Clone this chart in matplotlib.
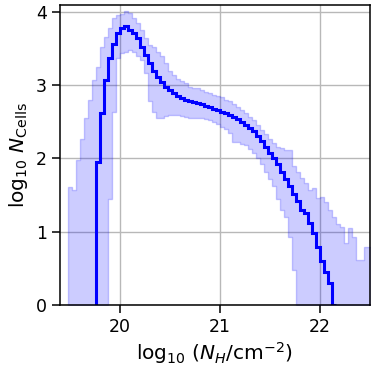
import numpy as np
import matplotlib.pyplot as plt

# histogram bins in log10(N_H), width 0.04
bin_width = 0.04
band_start = 19.48
median_start = 19.76

# upper envelope of the band, one value per bin from 19.48
band_hi = [1.61, 1.57, 1.98, 2.27, 2.55, 2.80, 3.07, 3.25, 3.52, 3.66,
           3.79, 3.92, 3.96, 3.98, 4.02, 3.99, 3.92, 3.85, 3.75, 3.65,
           3.55, 3.52, 3.46, 3.40, 3.30, 3.20, 3.14, 3.09, 3.06, 3.03,
           2.98, 2.96, 2.96, 2.94, 2.91, 2.89, 2.87, 2.86, 2.84, 2.80,
           2.78, 2.74, 2.70, 2.66, 2.62, 2.57, 2.52, 2.46, 2.39, 2.33,
           2.27, 2.21, 2.16, 2.14, 2.12, 2.11, 1.90, 1.81, 1.73, 1.66,
           1.57, 1.60, 1.46, 1.47, 1.40, 1.30, 1.20, 1.10, 1.06, 0.85,
           1.05, 0.93, 0.61, 0.61, 0.79, 0.79]

# lower envelope (0 where the lower count is empty)
band_lo = [0, 0, 0, 0, 0, 0, 0, 0, 0, 0,
           1.45, 2.63, 3.37, 3.44, 3.46, 3.48, 3.45, 3.40, 3.34, 3.17,
           2.78, 2.64, 2.56, 2.56, 2.58, 2.59, 2.59, 2.59, 2.58, 2.57,
           2.56, 2.56, 2.56, 2.56, 2.54, 2.53, 2.50, 2.47, 2.43, 2.40,
           2.35, 2.22, 2.22, 2.20, 2.18, 2.13, 2.08, 2.00, 1.92, 1.82,
           1.72, 1.62, 1.45, 1.30, 1.20, 0.93, 0.48, 0, 0, 0,
           0, 0, 0, 0, 0, 0, 0, 0, 0, 0,
           0, 0, 0, 0, 0, 0]

# median curve, one value per bin from 19.76
median = [1.95, 2.62, 3.07, 3.38, 3.57, 3.71, 3.79, 3.81, 3.76, 3.71,
          3.65, 3.52, 3.42, 3.30, 3.20, 3.12, 3.04, 2.98, 2.93, 2.89,
          2.86, 2.83, 2.80, 2.78, 2.77, 2.76, 2.74, 2.72, 2.70, 2.68,
          2.66, 2.64, 2.62, 2.60, 2.57, 2.54, 2.50, 2.46, 2.42, 2.37,
          2.31, 2.24, 2.16, 2.08, 2.00, 1.92, 1.82, 1.72, 1.62, 1.52,
          1.42, 1.30, 1.25, 1.12, 0.98, 0.79, 0.60, 0.45, 0.30, 0.0]

band_edges = band_start + bin_width * np.arange(len(band_hi) + 1)
med_edges = median_start + bin_width * np.arange(len(median) + 1)

fig = plt.figure(figsize=(3.74, 3.74), dpi=100)
ax = fig.add_axes([0.16, 0.185, 0.829, 0.802])

hi = np.append(band_hi, band_hi[-1])
lo = np.append(band_lo, band_lo[-1])
ax.fill_between(band_edges, lo, hi, step='post', color='blue', alpha=0.2, lw=1)

ax.stairs(median, med_edges, baseline=0, color='blue', lw=2.2)

ax.set_xlim(19.4, 22.5)
ax.set_ylim(0, 4.1)
ax.set_xticks([20, 21, 22])
ax.set_yticks([0, 1, 2, 3, 4])
ax.grid(True, color='#b8b8b8', lw=1)
ax.set_axisbelow(True)
ax.tick_params(labelsize=12.5, length=6, width=1.1)
for s in ax.spines.values():
    s.set_linewidth(1.1)

ax.set_xlabel(r'$\log_{10}\,(N_H/\mathrm{cm}^{-2})$', fontsize=14.5, labelpad=3)
ax.set_ylabel(r'$\log_{10}\,N_{\mathrm{Cells}}$', fontsize=14.5, labelpad=4)

plt.savefig('out.png', dpi=100)
